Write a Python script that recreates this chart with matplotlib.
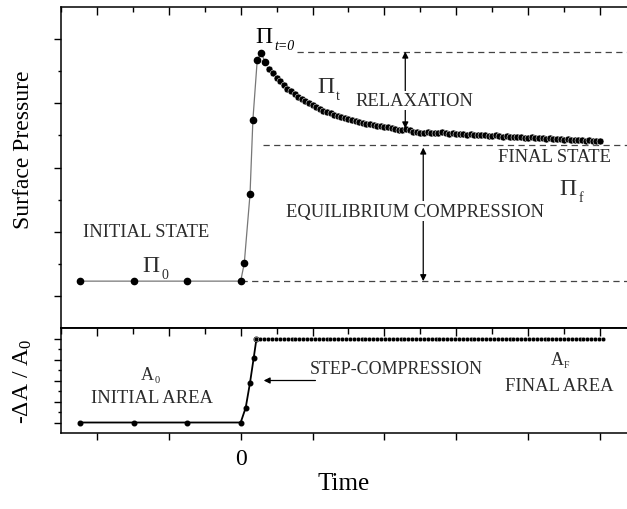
import numpy as np
import matplotlib
matplotlib.use("Agg")
import matplotlib.pyplot as plt

plt.rcParams["font.family"] = ["Liberation Serif", "DejaVu Serif"]
plt.rcParams["mathtext.fontset"] = "custom"
plt.rcParams["mathtext.rm"] = "Liberation Serif"
plt.rcParams["mathtext.it"] = "Liberation Serif:italic"

# --- surface pressure (top panel) ---
rise_time = [-2.24, -1.49, -0.75, 0.0, 0.05, 0.13, 0.17, 0.23, 0.28, 0.34]
rise_pressure = [1.46, 1.46, 1.46, 1.46, 2.02, 4.17, 6.49, 8.34, 8.57, 8.30]

decay_start = 0.40
decay_step = 0.05
decay_pressure = [
    8.07, 7.93, 7.80, 7.68, 7.56, 7.46, 7.37, 7.29, 7.21, 7.14,
    7.07, 7.00, 6.94, 6.88, 6.82, 6.77, 6.73, 6.69, 6.65, 6.61,
    6.58, 6.55, 6.51, 6.48, 6.46, 6.43, 6.40, 6.37, 6.35, 6.33,
    6.30, 6.28, 6.27, 6.25, 6.22, 6.20, 6.17, 6.18, 6.21, 6.16,
    6.12, 6.11, 6.09, 6.08, 6.10, 6.07, 6.06, 6.08, 6.11, 6.07,
    6.05, 6.06, 6.04, 6.05, 6.03, 6.02, 6.04, 6.01, 6.00, 6.02,
    6.00, 5.99, 5.98, 6.00, 5.97, 5.96, 5.97, 5.95, 5.96, 5.94,
    5.95, 5.93, 5.92, 5.94, 5.92, 5.91, 5.92, 5.90, 5.91, 5.89,
    5.88, 5.89, 5.87, 5.88, 5.86, 5.87, 5.85, 5.86, 5.84, 5.85,
    5.84, 5.83, 5.84,
]

pi_initial = 1.46
pi_peak = 8.61
pi_final = 5.71

# --- area (bottom panel) ---
area_time = [-2.24, -1.49, -0.75, 0.0, 0.07, 0.13, 0.18, 0.22]
area_value = [0.0, 0.0, 0.0, 0.0, 0.71, 1.90, 3.05, 4.0]
area_final = 4.0
area_end = 5.04

XLIM = (-2.486, 5.375)
TEXT_COLOR = "#2b2b2b"
FS_TEXT = 13.4

fig = plt.figure(figsize=(6.27, 5.10), dpi=100)
ax_top = fig.add_axes([0.0973, 0.3549, 0.9027, 0.6294])
ax_bot = fig.add_axes([0.0973, 0.1490, 0.9027, 0.2059])

decay_time = decay_start + decay_step * np.arange(len(decay_pressure))

# top panel
ax_top.plot(rise_time, rise_pressure, color="#777777", lw=0.9, zorder=2)
ax_top.plot(rise_time, rise_pressure, "o", color="black", ms=4.5, zorder=3)
ax_top.plot(decay_time, decay_pressure, "o", color="black", ms=5.0,
            mec="white", mew=0.35, zorder=3)

dash = dict(color="#444444", lw=0.9, dashes=(5, 3.5), zorder=1)
ax_top.plot([0.79, XLIM[1]], [pi_peak, pi_peak], **dash)
ax_top.plot([0.31, XLIM[1]], [pi_final, pi_final], **dash)
ax_top.plot([0.0, XLIM[1]], [pi_initial, pi_initial], **dash)

arrow = dict(arrowstyle="<|-|>", color="black", lw=0.9,
             mutation_scale=9, shrinkA=0, shrinkB=0)
ax_top.annotate("", xy=(2.29, pi_peak), xytext=(2.29, 6.22), arrowprops=arrow)
ax_top.annotate("", xy=(2.54, 5.62), xytext=(2.54, pi_initial), arrowprops=arrow)

box = dict(facecolor="white", edgecolor="none", pad=1.0)
ax_top.text(2.42, 7.09, "RELAXATION", ha="center", va="center",
            fontsize=FS_TEXT, color=TEXT_COLOR, bbox=box, zorder=4)
ax_top.text(2.43, 3.64, "EQUILIBRIUM COMPRESSION", ha="center", va="center",
            fontsize=FS_TEXT, color=TEXT_COLOR, bbox=box, zorder=4)
ax_top.text(4.36, 5.33, "FINAL STATE", ha="center", va="center",
            fontsize=FS_TEXT, color=TEXT_COLOR)
ax_top.text(-1.32, 3.02, "INITIAL STATE", ha="center", va="center",
            fontsize=FS_TEXT, color=TEXT_COLOR)

# Pi labels: main glyph and a small subscript
pi_labels = [
    (0.208, 8.91, "t=0", "black", True),
    (1.065, 7.34, "t", TEXT_COLOR, False),
    (4.44, 4.17, "f", TEXT_COLOR, False),
    (-1.365, 1.785, "0", TEXT_COLOR, False),
]
for x, y, sub, col, italic in pi_labels:
    ax_top.text(x, y, "\u03a0", ha="left", va="baseline", fontsize=17, color=col)
    ax_top.text(x + 0.26, y - 0.22, sub, ha="left", va="baseline", fontsize=10,
                color=col, style="italic" if italic else "normal")

ax_top.set_xlim(*XLIM)
ax_top.set_ylim(0, 10)
ax_top.set_yticks([1, 3, 5, 7, 9])
ax_top.set_yticks([2, 4, 6, 8], minor=True)
ax_top.set_xticks(np.arange(-2, 6))
ax_top.set_xticks(np.arange(-2.5, 5.5, 1.0), minor=True)
ax_top.tick_params(axis="y", which="both", direction="out", left=True,
                   right=False, labelleft=False, width=1.0)
ax_top.tick_params(axis="y", which="major", length=5)
ax_top.tick_params(axis="y", which="minor", length=2.5)
ax_top.tick_params(axis="x", which="both", direction="in", top=True,
                   bottom=False, labelbottom=False, labeltop=False, width=1.0)
ax_top.tick_params(axis="x", which="major", length=5.5)
ax_top.tick_params(axis="x", which="minor", length=3.5)
ax_top.spines["right"].set_visible(False)
for side in ("left", "top", "bottom"):
    ax_top.spines[side].set_linewidth(1.1)
ax_top.set_ylabel("Surface Pressure", fontsize=17)
ax_top.yaxis.set_label_coords(-0.047, 0.558)

# bottom panel
flat_time = np.linspace(area_time[-1], area_end, 90)
ax_bot.plot(area_time, area_value, color="black", lw=1.3, zorder=2)
ax_bot.plot(area_time, area_value, "o", color="black", ms=3.3, zorder=3)
ax_bot.plot(flat_time, np.full(len(flat_time), area_final), "o-", color="black",
            lw=1.5, ms=3.2, mec="white", mew=0.25, zorder=3)

ax_bot.annotate("", xy=(0.32, 2.0), xytext=(1.04, 2.0),
                arrowprops=dict(arrowstyle="-|>", color="black", lw=0.9,
                                mutation_scale=9, shrinkA=0, shrinkB=0))
ax_bot.text(0.96, 2.57, "STEP-COMPRESSION", ha="left", va="center",
            fontsize=12.9, color=TEXT_COLOR)
ax_bot.text(-1.39, 2.06, "A", ha="left", va="baseline",
            fontsize=13, color=TEXT_COLOR)
ax_bot.text(-1.20, 1.92, "0", ha="left", va="baseline",
            fontsize=7.5, color=TEXT_COLOR)
ax_bot.text(-1.24, 1.20, "INITIAL AREA", ha="center", va="center",
            fontsize=FS_TEXT, color=TEXT_COLOR)
ax_bot.text(4.31, 2.80, "A", ha="left", va="baseline",
            fontsize=13, color=TEXT_COLOR)
ax_bot.text(4.50, 2.62, "F", ha="left", va="baseline",
            fontsize=7, color=TEXT_COLOR)
ax_bot.text(4.44, 1.74, "FINAL AREA", ha="center", va="center",
            fontsize=FS_TEXT, color=TEXT_COLOR)

ax_bot.set_xlim(*XLIM)
ax_bot.set_ylim(-0.5, 4.5)
ax_bot.set_yticks([0, 1, 2, 3, 4])
ax_bot.set_yticks([0.5, 1.5, 2.5, 3.5], minor=True)
ax_bot.tick_params(axis="y", which="both", direction="out", left=True,
                   right=False, labelleft=False, width=1.0)
ax_bot.tick_params(axis="y", which="major", length=5)
ax_bot.tick_params(axis="y", which="minor", length=2.5)
ax_bot.set_xticks(np.arange(-2, 6))
ax_bot.set_xticklabels(["" if v != 0 else "0" for v in range(-2, 6)])
ax_bot.set_xticks(np.arange(-2.5, 5.5, 1.0), minor=True)
ax_bot.tick_params(axis="x", which="major", direction="out", bottom=True,
                   top=False, length=5, width=1.0, labelsize=17, pad=6)
ax_bot.tick_params(axis="x", which="minor", bottom=False, top=False)
ax_top_x = ax_bot.secondary_xaxis("top")
ax_top_x.set_xticks(np.arange(-2, 6))
ax_top_x.set_xticks(np.arange(-2.5, 5.5, 1.0), minor=True)
ax_top_x.tick_params(axis="x", which="both", direction="in", labeltop=False, width=1.0)
ax_top_x.tick_params(axis="x", which="major", length=6)
ax_top_x.tick_params(axis="x", which="minor", length=4)
ax_top_x.spines["top"].set_linewidth(1.1)
ax_bot.spines["right"].set_visible(False)
for side in ("left", "top", "bottom"):
    ax_bot.spines[side].set_linewidth(1.1)
ax_bot.set_ylabel(r"-$\Delta$A / A$_{0}$", fontsize=17)
ax_bot.yaxis.set_label_coords(-0.047, 0.5)
ax_bot.set_xlabel("Time", fontsize=18, labelpad=2)

fig.savefig("out.png", dpi=100, facecolor="white")
